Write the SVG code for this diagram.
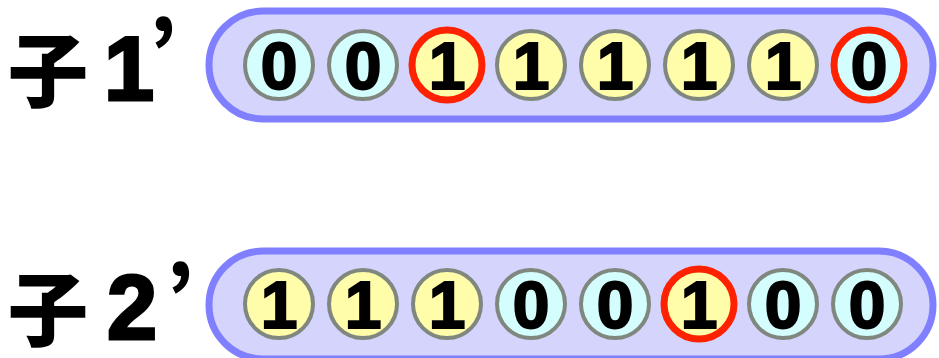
<svg xmlns="http://www.w3.org/2000/svg" width="939" height="358" viewBox="0 0 939 358">
<style>
.pill{fill:#d4d4fc;stroke:#7f7fff;stroke-width:7}
.c1{fill:#fffcaa}
.c0{fill:#d4fdfd}
.g{stroke:#7f877f;stroke-width:4}
.r{stroke:#ff2200;stroke-width:7}
.d{font-family:"Liberation Sans",Arial,sans-serif;font-weight:bold;font-size:66px;text-anchor:middle;fill:#000;stroke:#000;stroke-width:2}
.lbl{font-family:"Noto Sans CJK JP","Noto Sans CJK SC",sans-serif;font-weight:900;fill:#000}
.num{font-family:"Liberation Sans",Arial,sans-serif;font-weight:bold;font-size:90px;fill:#000;stroke:#000;stroke-width:3}
</style>
<g id="label1">
<text class="lbl" x="8" y="100" font-size="80">子</text>
<text class="num" x="104" y="100">1</text>
<text class="lbl" x="149" y="80" font-size="80">’</text>
</g>
<g id="child1">
<rect class="pill" x="209" y="11" width="724" height="108" rx="54"/>
<g id="c1-1"><circle class="c0 g" cx="279" cy="65" r="34"/><text class="d" x="279" y="89">0</text></g>
<g id="c1-2"><circle class="c0 g" cx="363" cy="65" r="34"/><text class="d" x="363" y="89">0</text></g>
<g id="c1-3"><circle class="c1 r" cx="447" cy="65" r="35"/><text class="d" x="447" y="89">1</text></g>
<g id="c1-4"><circle class="c1 g" cx="531" cy="65" r="34"/><text class="d" x="531" y="89">1</text></g>
<g id="c1-5"><circle class="c1 g" cx="615" cy="65" r="34"/><text class="d" x="615" y="89">1</text></g>
<g id="c1-6"><circle class="c1 g" cx="699" cy="65" r="34"/><text class="d" x="699" y="89">1</text></g>
<g id="c1-7"><circle class="c1 g" cx="783" cy="65" r="34"/><text class="d" x="783" y="89">1</text></g>
<g id="c1-8"><circle class="c0 r" cx="869" cy="65" r="35"/><text class="d" x="869" y="89">0</text></g>
</g>
<g id="label2">
<text class="lbl" x="8" y="339" font-size="80">子</text>
<text class="num" x="107" y="339">2</text>
<text class="lbl" x="166" y="325" font-size="80">’</text>
</g>
<g id="child2">
<rect class="pill" x="209" y="251" width="724" height="108" rx="54"/>
<g id="c2-1"><circle class="c1 g" cx="279" cy="304" r="34"/><text class="d" x="279" y="328">1</text></g>
<g id="c2-2"><circle class="c1 g" cx="363" cy="304" r="34"/><text class="d" x="363" y="328">1</text></g>
<g id="c2-3"><circle class="c1 g" cx="447" cy="304" r="34"/><text class="d" x="447" y="328">1</text></g>
<g id="c2-4"><circle class="c0 g" cx="531" cy="304" r="34"/><text class="d" x="531" y="328">0</text></g>
<g id="c2-5"><circle class="c0 g" cx="615" cy="304" r="34"/><text class="d" x="615" y="328">0</text></g>
<g id="c2-6"><circle class="c1 r" cx="699" cy="304" r="35"/><text class="d" x="699" y="328">1</text></g>
<g id="c2-7"><circle class="c0 g" cx="783" cy="304" r="34"/><text class="d" x="783" y="328">0</text></g>
<g id="c2-8"><circle class="c0 g" cx="867" cy="304" r="34"/><text class="d" x="867" y="328">0</text></g>
</g>
<g id="connectors"/>
</svg>
